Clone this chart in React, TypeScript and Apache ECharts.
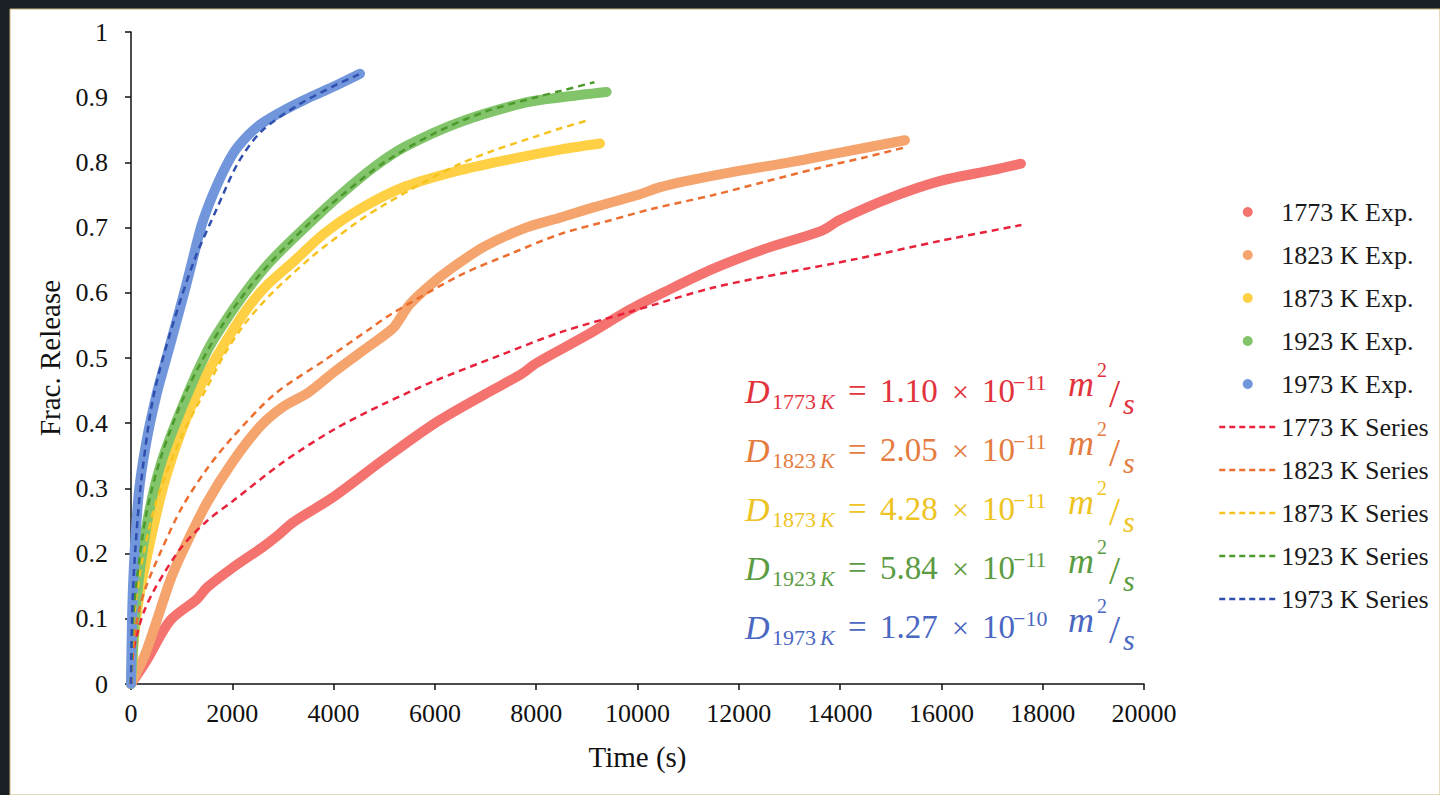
import React, { useEffect, useRef } from "react";
import * as echarts from "echarts";

// ---- Data (time in s, fractional release) ----
const exp1773: [number, number][] = [
  [0, 0], [300, 0.035], [770, 0.097], [1300, 0.13], [1500, 0.148], [2000, 0.178], [2600, 0.21], [2900, 0.228],
  [3200, 0.248], [4000, 0.287], [5000, 0.345], [6000, 0.4], [7000, 0.445], [7700, 0.475], [8000, 0.492],
  [9000, 0.535], [9820, 0.573], [10500, 0.6], [11500, 0.637], [12500, 0.667], [13630, 0.695], [14000, 0.712],
  [15000, 0.746], [16000, 0.772], [17000, 0.788], [17570, 0.798],
];
const exp1823: [number, number][] = [
  [0, 0], [300, 0.05], [770, 0.158], [1000, 0.2], [1500, 0.278], [2000, 0.34], [2550, 0.395], [3000, 0.425],
  [3500, 0.447], [4000, 0.478], [4520, 0.508], [5000, 0.535], [5200, 0.548], [5500, 0.582], [6000, 0.618],
  [6500, 0.647], [7000, 0.672], [7800, 0.7], [8500, 0.716], [9130, 0.731], [10000, 0.75], [10450, 0.762],
  [11000, 0.772], [12000, 0.787], [13000, 0.8], [14000, 0.815], [15280, 0.834],
];
const exp1873: [number, number][] = [
  [0, 0], [100, 0.1], [300, 0.19], [700, 0.32], [1297, 0.445], [2053, 0.548], [2600, 0.605], [3238, 0.65],
  [3800, 0.69], [4488, 0.727], [5410, 0.763], [6500, 0.788], [7500, 0.805], [8500, 0.82], [9260, 0.829],
];
const exp1923: [number, number][] = [
  [0, 0], [100, 0.12], [300, 0.24], [600, 0.34], [1119, 0.445], [1500, 0.51], [1790, 0.548], [2300, 0.605],
  [2778, 0.65], [3500, 0.705], [4160, 0.752], [4800, 0.793], [5410, 0.824], [6500, 0.862], [7800, 0.892],
  [8500, 0.9], [9390, 0.908],
];
const exp1973: [number, number][] = [
  [0, 0], [40, 0.15], [150, 0.29], [300, 0.37], [507, 0.445], [700, 0.5], [869, 0.548], [1050, 0.6],
  [1198, 0.645], [1400, 0.705], [1625, 0.752], [1900, 0.798], [2119, 0.825], [2500, 0.855], [2975, 0.878],
  [3400, 0.895], [3765, 0.908], [4100, 0.92], [4521, 0.936],
];

const fit1773: [number, number][] = [
  [0, 0], [30, 0.04], [100, 0.07], [250, 0.11], [500, 0.15], [1000, 0.21], [1500, 0.25], [2000, 0.28],
  [3000, 0.34], [4000, 0.39], [5000, 0.43], [6000, 0.465], [7280, 0.504], [8500, 0.54], [9820, 0.57],
  [11500, 0.608], [13000, 0.632], [14330, 0.652], [16000, 0.68], [17580, 0.704],
];
const fit1823: [number, number][] = [
  [0, 0], [50, 0.06], [150, 0.11], [300, 0.15], [600, 0.205], [1000, 0.27], [1500, 0.33], [2000, 0.378],
  [2843, 0.445], [3830, 0.497], [4720, 0.545], [5150, 0.568], [6500, 0.627], [7500, 0.66], [8470, 0.69],
  [9500, 0.712], [10300, 0.729], [11500, 0.75], [12500, 0.77], [13500, 0.79], [14500, 0.808], [15280, 0.823],
];
const fit1873: [number, number][] = [
  [0, 0], [30, 0.07], [100, 0.13], [250, 0.2], [500, 0.28], [1000, 0.38], [1500, 0.455], [1856, 0.507],
  [2251, 0.553], [2778, 0.599], [3567, 0.655], [4422, 0.706], [5000, 0.735], [5840, 0.772], [6500, 0.798],
  [7150, 0.818], [8000, 0.84], [8470, 0.852], [9000, 0.864],
];
const fit1923: [number, number][] = [
  [0, 0], [30, 0.08], [100, 0.15], [300, 0.26], [600, 0.35], [1100, 0.45], [1800, 0.55], [2300, 0.605],
  [2800, 0.65], [3500, 0.705], [4200, 0.752], [5000, 0.8], [6000, 0.845], [7000, 0.878], [8000, 0.9],
  [8500, 0.91], [9150, 0.923],
];
const fit1973: [number, number][] = [
  [0, 0], [20, 0.1], [80, 0.2], [200, 0.31], [440, 0.44], [800, 0.545], [1250, 0.65], [1700, 0.73],
  [2119, 0.8], [2580, 0.848], [3300, 0.888], [4000, 0.917], [4500, 0.935],
];

const temps = ["1773", "1823", "1873", "1923", "1973"];
const expData = [exp1773, exp1823, exp1873, exp1923, exp1973];
const fitData = [fit1773, fit1823, fit1873, fit1923, fit1973];
const diffMantissa = ["1.10", "2.05", "4.28", "5.84", "1.27"];
const diffExponent = ["\u221211", "\u221211", "\u221211", "\u221211", "\u221210"];

const expColors = ["#F4736F", "#F4A46C", "#FFD044", "#82C46A", "#7196DB"];
const fitColors = ["#E8223B", "#EC6E30", "#F5C21E", "#4C9A2E", "#2F4FAE"];
const textColors = ["#E2333C", "#E47C40", "#EEC324", "#5B9B42", "#4A67C2"];

const SERIF = '"Liberation Serif", "Times New Roman", serif';

export default function App() {
  const ref = useRef<HTMLDivElement>(null);
  useEffect(() => {
    document.body.style.margin = "0";
    const chart = echarts.init(ref.current!, undefined, { renderer: "svg" });

    const series: any[] = [];
    temps.forEach((t, i) => {
      series.push({
        name: `${t} K Exp.`,
        type: "line",
        data: expData[i],
        showSymbol: false,
        symbol: "circle",
        smooth: 0.3,
        color: expColors[i],
        lineStyle: { width: 10, color: expColors[i], cap: "round", join: "round" },
        z: 2,
      });
    });
    temps.forEach((t, i) => {
      series.push({
        name: `${t} K Series`,
        type: "line",
        data: fitData[i],
        showSymbol: false,
        symbol: "none",
        smooth: 0.3,
        color: fitColors[i],
        lineStyle: { width: 2.5, color: fitColors[i], type: [7, 5] },
        z: 3,
      });
    });

    const legendData: any[] = [
      ...temps.map((t) => ({ name: `${t} K Exp.`, icon: "circle" })),
      ...temps.map((t) => ({
        name: `${t} K Series`,
        itemStyle: { opacity: 0 },
        lineStyle: { type: [6, 4], width: 2.5 },
      })),
    ];

    const graphics: any[] = [
      {
        type: "rect",
        z: -100,
        silent: true,
        shape: { x: 10, y: 9, width: 1430, height: 786 },
        style: { fill: "#ffffff", stroke: "#c9b47a", lineWidth: 1 },
      },
    ];
    const piece = (text: string, x: number, y: number, font: string, fill: string) => ({
      type: "text",
      x,
      y,
      silent: true,
      style: { text, font, fill, textAlign: "left", textVerticalAlign: "middle" },
    });
    temps.forEach((t, i) => {
      const y0 = 391 + i * 59;
      const c = textColors[i];
      graphics.push(piece("D", 745, y0, `italic 34px ${SERIF}`, c));
      graphics.push(piece(t, 772, y0 + 10, `22px ${SERIF}`, c));
      graphics.push(piece("K", 820, y0 + 10, `italic 22px ${SERIF}`, c));
      graphics.push(piece("=", 848, y0, `33px ${SERIF}`, c));
      graphics.push(piece(diffMantissa[i], 880, y0, `33px ${SERIF}`, c));
      graphics.push(piece("\u00d7", 952, y0, `30px ${SERIF}`, c));
      graphics.push(piece("10", 982, y0, `33px ${SERIF}`, c));
      graphics.push(piece(diffExponent[i], 1013, y0 - 9, `22px ${SERIF}`, c));
      graphics.push(piece("m", 1068, y0 - 7, `italic 36px ${SERIF}`, c));
      graphics.push(piece("2", 1097, y0 - 21, `20px ${SERIF}`, c));
      graphics.push(piece("/", 1109, y0 + 2, `40px ${SERIF}`, c));
      graphics.push(piece("s", 1123, y0 + 12, `italic 30px ${SERIF}`, c));
    });

    chart.setOption({
      animation: false,
      backgroundColor: "#1b2026",
      textStyle: { fontFamily: SERIF },
      grid: { left: 131, right: 296, top: 32, bottom: 111, containLabel: false },
      xAxis: {
        type: "value",
        min: 0,
        max: 20000,
        interval: 2000,
        name: "Time (s)",
        nameLocation: "middle",
        nameGap: 58,
        nameTextStyle: { fontFamily: SERIF, fontSize: 29, color: "#111" },
        axisLine: { show: true, onZero: false, lineStyle: { color: "#111", width: 1.5 } },
        axisTick: { show: true, inside: false, length: 6, lineStyle: { color: "#111", width: 1.5 } },
        axisLabel: { fontFamily: SERIF, fontSize: 26, color: "#111", margin: 16, formatter: (v: number) => String(v) },
        splitLine: { show: false },
      },
      yAxis: {
        type: "value",
        min: 0,
        max: 1,
        interval: 0.1,
        name: "Frac. Release",
        nameLocation: "middle",
        nameGap: 64,
        nameRotate: 90,
        nameTextStyle: { fontFamily: SERIF, fontSize: 29, color: "#111" },
        axisLine: { show: true, lineStyle: { color: "#111", width: 1.5 } },
        axisTick: { show: true, inside: false, length: 6, lineStyle: { color: "#111", width: 1.5 } },
        axisLabel: { fontFamily: SERIF, fontSize: 26, color: "#111", margin: 23 },
        splitLine: { show: false },
      },
      legend: {
        orient: "vertical",
        left: 1213,
        top: 194,
        itemWidth: 57,
        itemHeight: 10,
        itemGap: 17,
        selectedMode: false,
        textStyle: { fontFamily: SERIF, fontSize: 26, color: "#1a1a1a", lineHeight: 26 },
        data: legendData,
      },
      graphic: graphics,
      series,
    });
    return () => chart.dispose();
  }, []);
  return <div ref={ref} style={{ position: "absolute", left: 0, top: 0, width: 1440, height: 795 }} />;
}
